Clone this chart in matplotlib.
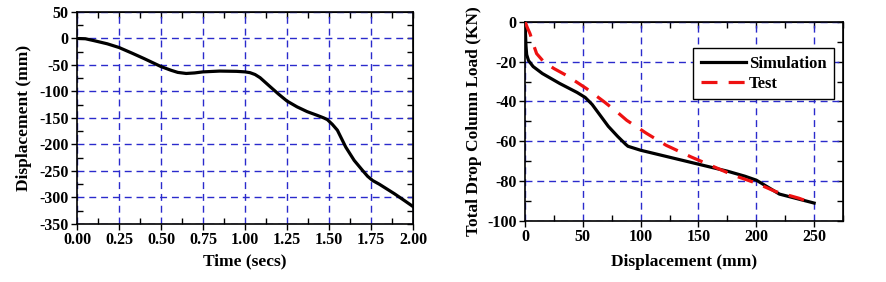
import numpy as np
import matplotlib.pyplot as plt
from matplotlib.ticker import MultipleLocator, FormatStrFormatter

# Left panel: displacement history
time_s = [0.0, 0.05, 0.1, 0.18, 0.25, 0.33, 0.4, 0.5, 0.56, 0.6, 0.65, 0.7,
          0.75, 0.85, 0.95, 1.0, 1.03, 1.06, 1.09, 1.15, 1.2, 1.25, 1.31,
          1.37, 1.43, 1.47, 1.49, 1.52, 1.55, 1.6, 1.65, 1.7, 1.73, 1.76,
          1.8, 1.83, 1.89, 1.95, 2.0]
disp_mm = [0, -0.5, -4, -10, -17, -28, -38, -53, -60, -64, -66, -65, -63,
           -61.5, -62, -63, -64.5, -68, -74, -91, -105, -118, -129, -138,
           -145, -150, -153, -162, -173, -205, -230, -249, -260, -268, -275,
           -281, -293, -306, -317]

# Right panel: load vs displacement
sim_disp = [0, 0.3, 0.8, 1.4, 3, 7, 15, 30, 45, 52, 58, 65, 72, 80, 87, 89,
            100, 125, 150, 175, 190, 200, 210, 220, 230, 250]
sim_load = [0, -5, -12, -16.5, -19.5, -22.5, -26, -31, -35.5, -38, -41.5,
            -47, -52.5, -57.5, -61.5, -62.5, -64.5, -68, -71.5, -75, -77.5,
            -79.5, -83, -86.5, -88, -91]
test_disp = [0, 2, 4.3, 7, 10, 16, 25, 36, 53, 68, 80, 88, 105, 122, 143,
             163, 180, 200, 217, 237, 245]
test_load = [0, -3, -6, -11, -16, -20, -23.5, -27, -33.5, -40, -45.5, -49.5,
             -56, -62, -67.7, -72.7, -77, -81, -85.3, -88.6, -90.3]

plt.rcParams['font.family'] = 'Liberation Serif'
plt.rcParams['font.weight'] = 'bold'
plt.rcParams['axes.unicode_minus'] = False

GRID_COLOR = '#2a2acc'
TICK_SIZE = 11.5
LABEL_SIZE = 12.5


def style_axes(ax, xmajor, xminor, ymajor, yminor):
    ax.xaxis.set_major_locator(MultipleLocator(xmajor))
    ax.xaxis.set_minor_locator(MultipleLocator(xminor))
    ax.yaxis.set_major_locator(MultipleLocator(ymajor))
    ax.yaxis.set_minor_locator(MultipleLocator(yminor))
    ax.tick_params(which='major', direction='out', length=4, width=1,
                   labelsize=TICK_SIZE, pad=2)
    ax.tick_params(which='minor', direction='in', length=4, width=1)
    ax.grid(True, which='major', color=GRID_COLOR, linestyle=(0, (5, 3.5)),
            linewidth=1)
    for s in ax.spines.values():
        s.set_linewidth(1.2)
    # inward ticks on top and right
    top = ax.secondary_xaxis('top')
    top.xaxis.set_major_locator(MultipleLocator(xmajor))
    top.xaxis.set_minor_locator(MultipleLocator(xminor))
    top.tick_params(which='both', direction='in', length=4, width=1,
                    labeltop=False)
    right = ax.secondary_yaxis('right')
    right.yaxis.set_major_locator(MultipleLocator(ymajor))
    right.yaxis.set_minor_locator(MultipleLocator(yminor))
    right.tick_params(which='both', direction='in', length=4, width=1,
                      labelright=False)


fig = plt.figure(figsize=(8.86, 2.82), dpi=100)

ax1 = fig.add_axes([0.0869, 0.2057, 0.3792, 0.7518])
ax1.plot(time_s, disp_mm, color='black', linewidth=2.3, zorder=3)
ax1.set_xlim(0, 2)
ax1.set_ylim(-350, 50)
style_axes(ax1, 0.25, 0.125, 50, 25)
ax1.xaxis.set_major_formatter(FormatStrFormatter('%.2f'))
ax1.set_xlabel('Time (secs)', fontsize=LABEL_SIZE, fontweight='bold', labelpad=4)
ax1.set_ylabel('Displacement (mm)', fontsize=LABEL_SIZE, fontweight='bold',
               labelpad=5)

ax2 = fig.add_axes([0.5926, 0.2163, 0.3589, 0.7067])
ax2.plot(sim_disp, sim_load, color='black', linewidth=2.3, zorder=3,
         label='Simulation')
ax2.plot(test_disp, test_load, color='#ee1111', linewidth=2.3, zorder=4,
         linestyle=(0, (5, 3.5)), label='Test')
ax2.set_xlim(0, 275)
ax2.set_ylim(-100, 0)
style_axes(ax2, 50, 25, 20, 10)
ax2.set_xlabel('Displacement (mm)', fontsize=LABEL_SIZE, fontweight='bold',
               labelpad=6)
ax2.set_ylabel('Total Drop Column Load (KN)', fontsize=LABEL_SIZE,
               fontweight='bold', labelpad=4)
leg = ax2.legend(loc='upper right', bbox_to_anchor=(0.972, 0.868),
                 borderaxespad=0, fontsize=12, frameon=True, fancybox=False,
                 framealpha=1, edgecolor='black', handlelength=2.7,
                 handletextpad=0.2, borderpad=0.45, labelspacing=0.25)
leg.get_frame().set_linewidth(1)

fig.savefig('out.png', dpi=100)
